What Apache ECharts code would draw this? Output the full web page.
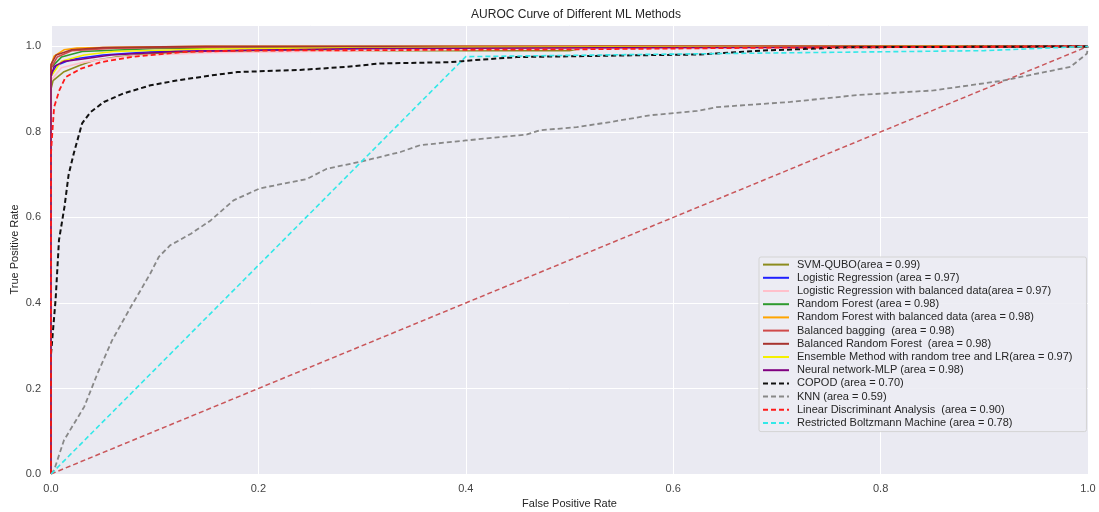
<!DOCTYPE html>
<html>
<head>
<meta charset="utf-8">
<script src="https://cdn.jsdelivr.net/npm/echarts@6/dist/echarts.min.js"></script>
<style>
  html, body { margin: 0; padding: 0; background: #fff; }
  #chart { width: 1099px; height: 512px; }
</style>
</head>
<body>
<div id="chart"></div>
<script>
// ---- ROC 曲线数据 ----
var svmFpr = [0, 0, 0.002, 0.012, 0.028, 0.041, 0.063, 0.098, 0.134, 0.25, 0.5, 0.52, 1];
var svmTpr = [0, 0.90, 0.92, 0.94, 0.956, 0.967, 0.975, 0.983, 0.987, 0.99, 0.99, 1.0, 1.0];

var lrFpr = [0, 0, 0.005, 0.02, 0.05, 0.1, 0.3, 1];
var lrTpr = [0, 0.93, 0.955, 0.97, 0.98, 0.988, 0.995, 1];

var lrBalFpr = [0, 0, 0.01, 0.03, 0.047, 0.08, 0.15, 0.4, 1];
var lrBalTpr = [0, 0.92, 0.95, 0.962, 0.969, 0.978, 0.985, 0.993, 1];

var rfFpr = [0, 0, 0.01, 0.03, 0.1, 0.3, 1];
var rfTpr = [0, 0.95, 0.975, 0.988, 0.995, 0.998, 1];

var rfBalFpr = [0, 0, 0.003, 0.0125, 0.025, 0.06, 0.15, 1];
var rfBalTpr = [0, 0.955, 0.977, 0.992, 0.996, 0.998, 1, 1];

var bbFpr = [0, 0, 0.006, 0.02, 0.06, 0.2, 1];
var bbTpr = [0, 0.95, 0.975, 0.99, 0.996, 0.999, 1];

var brfFpr = [0, 0, 0.005, 0.02, 0.05, 0.15, 1];
var brfTpr = [0, 0.958, 0.98, 0.992, 0.997, 1, 1];

var ensFpr = [0, 0, 0.01, 0.032, 0.06, 0.15, 0.4, 1];
var ensTpr = [0, 0.93, 0.965, 0.98, 0.988, 0.994, 0.998, 1];

var mlpFpr = [0, 0, 0.003, 0.0125, 0.029, 0.058, 0.12, 0.3, 1];
var mlpTpr = [0, 0.93, 0.953, 0.965, 0.97, 0.98, 0.988, 0.995, 1];

var copodFpr = [0, 0, 0.0045, 0.0077, 0.013, 0.017, 0.022, 0.030, 0.038, 0.051, 0.070, 0.096, 0.121,
  0.154, 0.18, 0.24, 0.285, 0.317, 0.385, 0.404, 0.449, 0.56, 0.626, 0.684, 0.77, 0.9, 1];
var copodTpr = [0, 0.28, 0.41, 0.547, 0.625, 0.70, 0.75, 0.82, 0.846, 0.87, 0.89, 0.909, 0.92,
  0.932, 0.94, 0.945, 0.952, 0.96, 0.963, 0.967, 0.975, 0.979, 0.981, 0.99, 0.998, 0.999, 1];

var knnFpr = [0, 0.003, 0.0125, 0.032, 0.045, 0.059, 0.077, 0.0865, 0.096, 0.104, 0.115, 0.135, 0.154,
  0.176, 0.2015, 0.247, 0.266, 0.298, 0.337, 0.356, 0.40, 0.459, 0.472, 0.507, 0.539, 0.578, 0.623,
  0.642, 0.713, 0.777, 0.851, 0.886, 0.918, 0.934, 0.983, 0.999, 1];
var knnTpr = [0, 0.009, 0.079, 0.157, 0.236, 0.313, 0.391, 0.43, 0.47, 0.508, 0.535, 0.562, 0.593,
  0.64, 0.668, 0.69, 0.714, 0.73, 0.753, 0.769, 0.78, 0.794, 0.804, 0.811, 0.823, 0.839, 0.849,
  0.858, 0.87, 0.886, 0.897, 0.909, 0.92, 0.928, 0.952, 0.983, 1];

var ldaFpr = [0, 0, 0.001, 0.003, 0.008, 0.014, 0.029, 0.048, 0.077, 0.128, 0.186, 0.5, 0.7, 1];
var ldaTpr = [0, 0.75, 0.788, 0.858, 0.897, 0.928, 0.948, 0.963, 0.975, 0.987, 0.99, 0.993, 0.997, 1];

var rbmFpr = [0, 0.4, 0.6, 0.9, 1];
var rbmTpr = [0, 0.976, 0.982, 0.99, 1];

var diagFpr = [0, 1];
var diagTpr = [0, 1];

var xTicks = [0, 0.2, 0.4, 0.6, 0.8, 1.0];
var yTicks = [0, 0.2, 0.4, 0.6, 0.8, 1.0];

// 名称 / 颜色 / 线型 / 线宽(按 matplotlib 绘制顺序)
var curves = [
  ['SVM-QUBO(area = 0.99)', svmFpr, svmTpr, '#8c8c1e', 'solid', 1.6],
  ['Logistic Regression (area = 0.97)', lrFpr, lrTpr, '#2020ff', 'solid', 1.6],
  ['Logistic Regression with balanced data(area = 0.97)', lrBalFpr, lrBalTpr, '#ffc0cb', 'solid', 1.6],
  ['Random Forest (area = 0.98)', rfFpr, rfTpr, '#2e9a2e', 'solid', 1.6],
  ['Random Forest with balanced data (area = 0.98)', rfBalFpr, rfBalTpr, '#ffa500', 'solid', 1.6],
  ['Balanced bagging  (area = 0.98)', bbFpr, bbTpr, '#d04a4a', 'solid', 1.6],
  ['Balanced Random Forest  (area = 0.98)', brfFpr, brfTpr, '#a8332e', 'solid', 1.6],
  ['Ensemble Method with random tree and LR(area = 0.97)', ensFpr, ensTpr, '#f4f000', 'solid', 1.6],
  ['Neural network-MLP (area = 0.98)', mlpFpr, mlpTpr, '#800080', 'solid', 1.6],
  ['COPOD (area = 0.70)', copodFpr, copodTpr, '#111111', 'dashed', 2],
  ['KNN (area = 0.59)', knnFpr, knnTpr, '#888888', 'dashed', 1.8],
  ['Linear Discriminant Analysis  (area = 0.90)', ldaFpr, ldaTpr, '#ff1a1a', 'dashed', 1.8],
  ['Restricted Boltzmann Machine (area = 0.78)', rbmFpr, rbmTpr, '#33e8e8', 'dashed', 1.6]
];

function pairs(xs, ys) {
  var out = [];
  for (var i = 0; i < xs.length; i++) out.push([xs[i], ys[i]]);
  return out;
}

var series = [{
  name: 'diag', type: 'line', data: pairs(diagFpr, diagTpr),
  symbol: 'none', silent: true, z: 1,
  lineStyle: { color: '#c9565a', width: 1.5, type: [5, 3] }
}];
curves.forEach(function (c, i) {
  series.push({
    name: c[0], type: 'line', data: pairs(c[1], c[2]),
    symbol: 'none', z: 2 + i,
    lineStyle: { color: c[3], width: c[5], type: c[4] === 'dashed' ? [5, 3] : 'solid' },
    itemStyle: { color: c[3] }
  });
});

var chart = echarts.init(document.getElementById('chart'));
var fontFam = '"Liberation Sans", Arial, sans-serif';
chart.setOption({
  animation: false,
  textStyle: { fontFamily: fontFam },
  title: {
    text: 'AUROC Curve of Different ML Methods',
    left: 571, top: 4, textAlign: 'center',
    textStyle: { fontSize: 12, fontWeight: 'normal', color: '#262626', fontFamily: fontFam }
  },
  grid: {
    left: 51, right: 11, top: 25, bottom: 38,
    outerBoundsMode: 'none',
    show: true, backgroundColor: '#eaeaf2', borderWidth: 0
  },
  legend: {
    data: curves.map(function (c) { return c[0]; }),
    orient: 'vertical', left: 759, top: 257,
    itemWidth: 26, itemHeight: 14, itemGap: 2,
    padding: [2, 14, 3, 3],
    itemStyle: { opacity: 0 },
    backgroundColor: 'rgba(236,236,243,0.9)',
    borderColor: '#d4d4d4', borderWidth: 1, borderRadius: 2,
    textStyle: { fontSize: 11, color: '#262626', fontFamily: fontFam, padding: [0, 0, 0, 3] }
  },
  xAxis: {
    type: 'value', min: xTicks[0], max: xTicks[xTicks.length - 1], interval: 0.2,
    name: 'False Positive Rate', nameLocation: 'middle', nameGap: 24,
    nameMoveOverlap: false,
    nameTextStyle: { fontSize: 11, color: '#262626' },
    axisLine: { show: false }, axisTick: { show: false },
    axisLabel: { fontSize: 11, color: '#444', margin: 9,
      formatter: function (v) { return v.toFixed(1); } },
    splitLine: { show: true, lineStyle: { color: '#ffffff', width: 1 } }
  },
  yAxis: {
    type: 'value', min: yTicks[0], max: 1.05, interval: 0.2,
    name: 'True Positive Rate', nameLocation: 'middle', nameGap: 31,
    nameMoveOverlap: false,
    nameTextStyle: { fontSize: 11, color: '#262626' },
    axisLine: { show: false }, axisTick: { show: false },
    axisLabel: { fontSize: 11, color: '#444', margin: 10, showMaxLabel: false,
      formatter: function (v) { return v > 1.001 ? '' : v.toFixed(1); } },
    splitLine: { show: true, lineStyle: { color: '#ffffff', width: 1 } }
  },
  series: series
});
</script>
</body>
</html>
